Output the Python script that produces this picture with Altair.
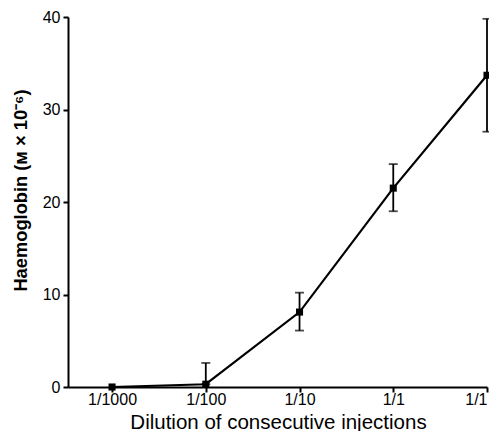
import altair as alt
import pandas as pd

labels = ["1/1000", "1/100", "1/10", "1/1", "1/1"]
positions = [0, 1, 2, 3, 4]
values = [0.0, 0.3, 8.1, 21.5, 33.7]
err_low = [0.0, 0.3, 6.1, 19.0, 27.6]
err_high = [0.0, 2.6, 10.2, 24.1, 39.8]

df = pd.DataFrame({"pos": positions, "label": labels, "val": values,
                   "lo": err_low, "hi": err_high})

label_expr = "[" + ",".join(f"'{l}'" for l in labels) + "][datum.value]"
y_title = "Haemoglobin (ᴍ × 10⁻⁶)"

x = alt.X("pos:Q", scale=alt.Scale(domain=[-0.47, 4], nice=False, zero=False),
          axis=alt.Axis(values=positions, labelExpr=label_expr, grid=False,
                        title="Dilution of consecutive injections",
                        titleFontSize=20.5, titleFontWeight=500,
                        titleX=210, titleY=41, titleAnchor="middle",
                        titleAlign="center", titleBaseline="alphabetic",
                        labelFontSize=16, labelPadding=-1, tickSize=5))
y_axis = alt.Axis(values=[0, 10, 20, 30, 40], grid=False,
                  title=y_title,
                  titleFontSize=18.3, titleFontWeight="bold",
                  titleAngle=-90, titleX=-47, titleY=173,
                  titleAlign="center", titleBaseline="middle",
                  labelFontSize=16, labelPadding=3, tickSize=5)
y_scale = alt.Scale(domain=[0, 40], nice=False)
y = alt.Y("val:Q", scale=y_scale, axis=y_axis, title=y_title)

base = alt.Chart(df)
line = base.mark_line(color="black", strokeWidth=2.2).encode(x=x, y=y)
pts = base.mark_square(color="black", size=50, opacity=1).encode(x=x, y=y)
err = base.transform_filter("datum.hi > datum.lo").mark_errorbar(
    ticks=alt.TickConfig(size=9, thickness=1.8), color="black", thickness=1.8
).encode(x=x, y=alt.Y("lo:Q", scale=y_scale, axis=y_axis, title=y_title),
         y2=alt.Y2("hi:Q", title=y_title))

chart = alt.layer(err, line, pts).properties(
    width=419, height=370,
    autosize=alt.AutoSizeParams(type="none"),
    padding={"left": 60, "top": 9, "right": 2, "bottom": 44},
).configure_view(stroke=None).configure_axis(
    domainColor="black", domainWidth=2, tickColor="black", tickWidth=2,
    labelColor="black", titleColor="black",
    labelFont="Liberation Sans", titleFont="Liberation Sans",
)

chart.save("out.html", embed_options={"renderer": "svg", "actions": False})
